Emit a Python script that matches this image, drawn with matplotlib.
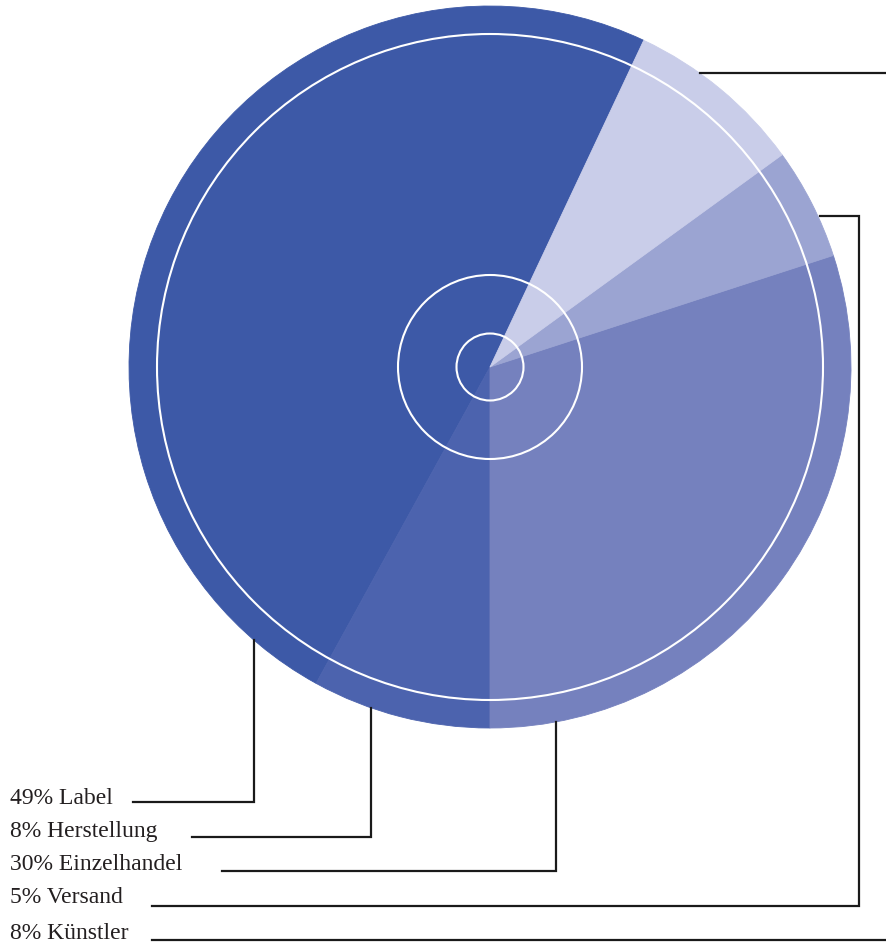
import matplotlib.pyplot as plt
from matplotlib.patches import Circle

# Daten
kategorien = ['Label', 'Herstellung', 'Einzelhandel', 'Versand', 'Künstler']
anteile = [49, 8, 30, 5, 8]
farben = ['#3d59a7', '#4c63ae', '#7581be', '#9ba4d2', '#c9cde9']

W, H = 886, 944

fig = plt.figure(figsize=(W / 100, H / 100), dpi=100)
ax = fig.add_axes([0, 0, 1, 1])


def py(y):
    # Pixel-y (von oben) in Datenkoordinaten
    return H - y


cx, cy, r = 490, py(367), 361
wedges, _ = ax.pie(anteile, colors=farben, startangle=64.8, counterclock=True,
                   center=(cx, cy), radius=r, frame=True,
                   wedgeprops=dict(linewidth=0.6))
for w, c in zip(wedges, farben):
    w.set_edgecolor(c)
ax.set_xlim(0, W)
ax.set_ylim(0, H)
ax.set_aspect('equal')
ax.axis('off')

# CD-Ringe
for rr in (333, 92, 33.5):
    ax.add_patch(Circle((cx, cy), rr, fill=False, edgecolor='white', lw=1.5))

# Führungslinien (Pixel-Layout: Punkte von Segment zu Label)
leader = [
    [(254, 640), (254, 802), (133, 802)],
    [(371, 708), (371, 837), (192, 837)],
    [(556, 722), (556, 871), (222, 871)],
    [(820, 216), (859, 216), (859, 906), (152, 906)],
    [(700, 73), (890, 73), (890, 940), (152, 940)],
]
text_y = [804, 837, 870, 903, 939]

for name, wert, pts, ty in zip(kategorien, anteile, leader, text_y):
    xs = [p[0] for p in pts]
    ys = [py(p[1]) for p in pts]
    ax.plot(xs, ys, color='#1a1a1a', lw=1.6, solid_joinstyle='miter')
    ax.text(10, py(ty), f'{wert}% {name}', fontsize=17, family='Liberation Serif',
            color='#231f20', va='baseline', ha='left')

fig.savefig('out.png', dpi=100)
